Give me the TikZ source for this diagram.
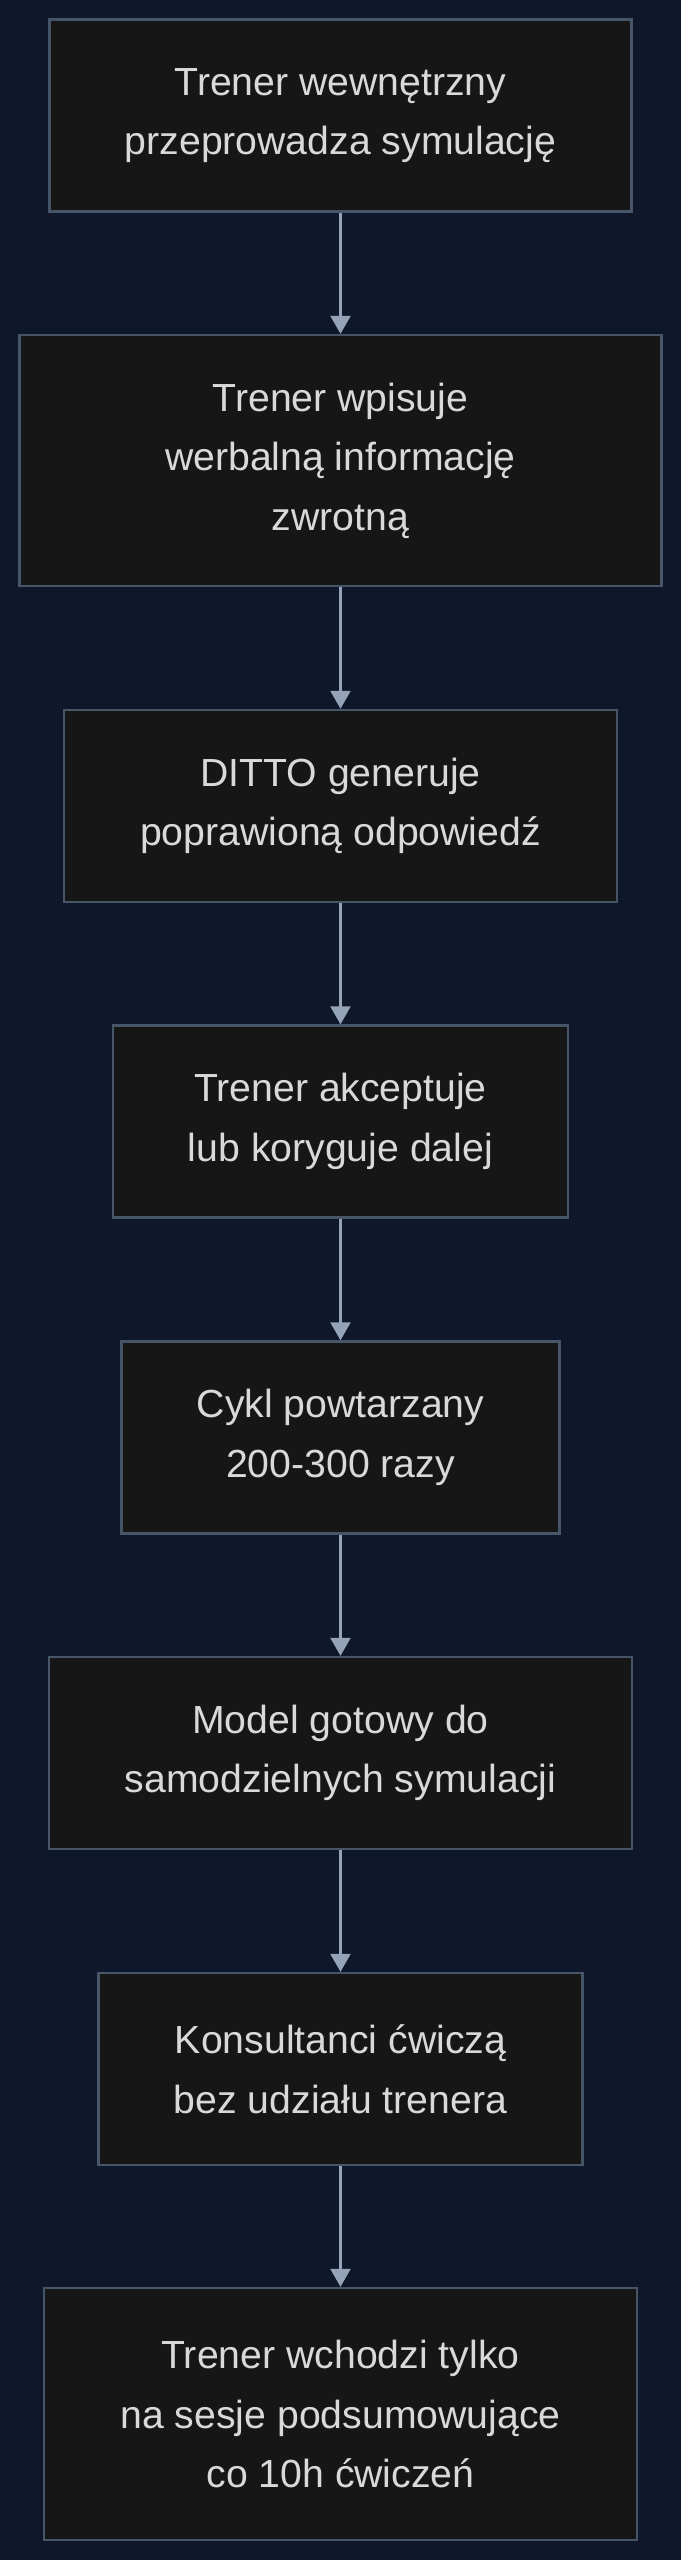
\documentclass[tikz,border=0pt]{standalone}
\usepackage{fontspec}
\setmainfont{Liberation Sans}
\usetikzlibrary{arrows.meta}
\definecolor{bgnavy}{HTML}{0F172A}
\definecolor{boxfill}{HTML}{161616}
\definecolor{boxline}{HTML}{475569}
\definecolor{arrowgray}{HTML}{94A3B8}
\definecolor{labelgray}{HTML}{D9D9D9}

\begin{document}
\begin{tikzpicture}[x=0.5pt, y=-0.5pt,
block/.style = {rectangle, draw=boxline, fill=boxfill, line width=1.2pt, align=center, text=labelgray, inner sep=0pt, font=\fontsize{19.6pt}{29.8pt}\selectfont},
flow/.style = {-{Triangle[length=9pt,width=10pt]}, draw=arrowgray, line width=1.2pt}]
\fill[bgnavy] (0,0) rectangle (681,2560);
\node[block, minimum width=291pt, minimum height=96pt] at (340.5,115.5) (sim) {Trener wewnętrzny\\przeprowadza symulację};
\node[block, minimum width=321pt, minimum height=125.5pt] at (340.5,460.5) (feedback) {Trener wpisuje\\werbalną informację\\zwrotną};
\node[block, minimum width=276.5pt, minimum height=96pt] at (340.5,806) (ditto) {DITTO generuje\\poprawioną odpowiedź};
\node[block, minimum width=227.5pt, minimum height=96pt] at (340.5,1121.5) (accept) {Trener akceptuje\\lub koryguje dalej};
\node[block, minimum width=219pt, minimum height=96pt] at (340.5,1437.5) (cycle) {Cykl powtarzany\\200-300 razy};
\node[block, minimum width=291.5pt, minimum height=96pt] at (340.5,1753) (ready) {Model gotowy do\\samodzielnych symulacji};
\node[block, minimum width=242pt, minimum height=96pt] at (340.5,2069) (practice) {Konsultanci ćwiczą\\bez udziału trenera};
\node[block, minimum width=296.5pt, minimum height=126pt] at (340.5,2414) (review) {Trener wchodzi tylko\\na sesje podsumowujące\\co 10h ćwiczeń};
\draw [flow] (sim) -- (feedback);
\draw [flow] (feedback) -- (ditto);
\draw [flow] (ditto) -- (accept);
\draw [flow] (accept) -- (cycle);
\draw [flow] (cycle) -- (ready);
\draw [flow] (ready) -- (practice);
\draw [flow] (practice) -- (review);
\end{tikzpicture}
\end{document}
